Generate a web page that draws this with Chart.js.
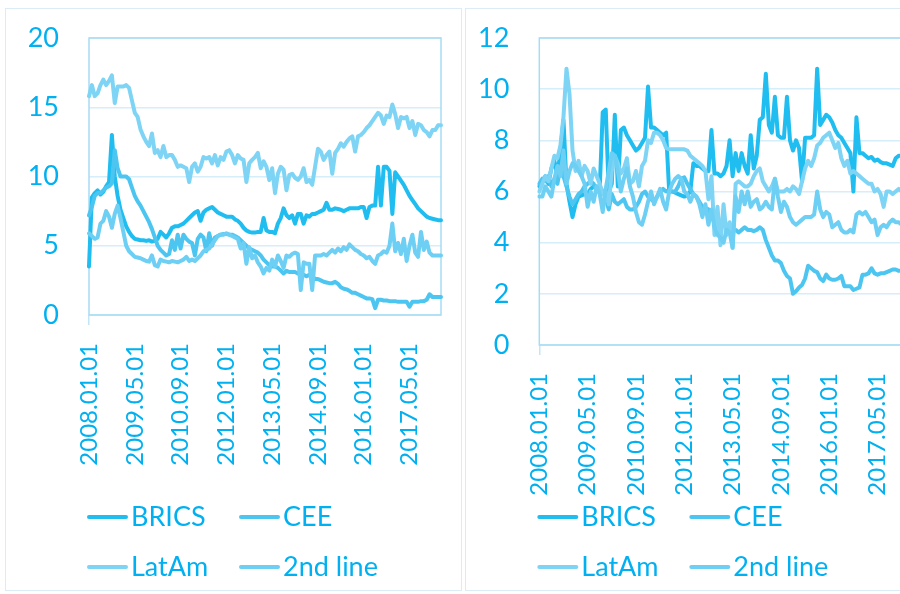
<!DOCTYPE html>
<html>
<head>
<meta charset="utf-8">
<script src="https://cdn.jsdelivr.net/npm/chart.js@4.4.1/dist/chart.umd.min.js"></script>
<style>
  html, body { margin: 0; padding: 0; background: #fff; width: 900px; height: 594px; overflow: hidden; position: relative; }
  .panel { position: absolute; top: 8px; border: 1px solid #dcecf7; background: #fff; }
  #pL { left: 5px; width: 455px; height: 581px; }
  #pR { left: 465px; width: 470px; height: 581px; }
  canvas { display: block; }
</style>
</head>
<body>
<div class="panel" id="pL"><canvas id="cL" width="455" height="581"></canvas></div>
<div class="panel" id="pR"><canvas id="cR" width="470" height="581"></canvas></div>
<script>
// Monthly observations, January 2008 onwards
const START_YEAR = 2008, START_MONTH = 1, N_MONTHS = 124;
const months = [];
for (let k = 0; k < N_MONTHS; k++) {
  const m = START_MONTH - 1 + k;
  const y = START_YEAR + Math.floor(m / 12);
  const mm = String(m % 12 + 1).padStart(2, '0');
  months.push(y + '.' + mm + '.01');
}
const LABEL_EVERY = 16;

const seriesNames = ['BRICS', 'CEE', 'LatAm', '2nd line'];

// Left panel
const leftBRICS = [
  3.5, 8.5, 8.8, 9.0, 8.7, 8.9, 9.3, 9.6, 13.0, 10.0,
  8.6, 7.6, 7.0, 6.4, 6.0, 5.7, 5.5, 5.45, 5.4, 5.4,
  5.35, 5.4, 5.3, 5.35, 5.5, 6.0, 5.8, 5.6, 5.9, 6.3,
  6.4, 6.4, 6.5, 6.6, 6.8, 7.0, 7.2, 7.4, 7.5, 6.8,
  7.4, 7.6, 7.7, 7.8, 7.6, 7.4, 7.3, 7.2, 7.1, 7.1,
  7.1, 6.9, 6.8, 6.6, 6.3, 6.1, 6.0, 5.95, 5.95, 6.0,
  6.0, 7.0, 6.1, 6.0, 6.0, 5.9, 6.6, 7.0, 7.7, 7.2,
  7.0, 7.2, 6.6, 7.3, 7.3, 6.6, 7.2, 7.1, 7.3, 7.3,
  7.4, 7.5, 7.6, 8.1, 7.6, 7.6, 7.7, 7.65, 7.6, 7.5,
  7.6, 7.7, 7.7, 7.7, 7.7, 7.8, 7.8, 7.0, 7.8, 7.9,
  7.9, 10.7, 7.9, 10.7, 10.7, 10.4, 7.3, 10.3, 10.0, 9.7,
  9.4, 9.0, 8.6, 8.3, 8.0, 7.7, 7.5, 7.3, 7.1, 7.0,
  6.95, 6.9, 6.85, 6.85
];
const leftCEE = [
  7.2, 7.8, 8.6, 8.8, 8.8, 9.0, 9.2, 9.3, 9.5, 11.9,
  10.6, 10.0, 10.0, 10.0, 9.8, 9.2, 8.6, 8.2, 7.9, 7.5,
  7.1, 6.7, 6.2, 5.6, 5.0, 4.7, 4.5, 4.3, 4.4, 5.4,
  4.7, 5.8, 4.8, 5.8, 5.5, 5.3, 5.2, 4.3, 5.5, 5.8,
  5.6, 4.6, 5.9, 5.0, 5.6, 5.7, 5.8, 5.85, 5.85, 5.8,
  5.8, 5.7, 5.6, 5.4, 5.2, 5.0, 4.8, 4.7, 4.6, 4.5,
  4.3, 4.0, 3.8, 3.6, 3.5, 3.5, 3.4, 3.2, 3.0, 3.2,
  3.1, 3.1, 3.1, 3.0, 2.9, 2.9, 2.8, 2.9, 2.8, 2.6,
  2.6, 2.5, 2.4, 2.35, 2.3, 2.3, 2.4, 2.25, 2.0, 1.9,
  1.85, 1.75, 1.6, 1.6, 1.5, 1.4, 1.3, 1.2, 1.2, 1.15,
  0.5, 1.1, 1.1, 1.05, 1.05, 1.0, 1.0, 1.0, 0.95, 0.95,
  0.95, 0.95, 0.6, 0.95, 0.95, 0.95, 1.0, 1.0, 1.1, 1.5,
  1.3, 1.3, 1.3, 1.3
];
const leftLatAm = [
  15.8, 16.6, 15.8, 16.0, 16.6, 17.0, 16.6, 16.9, 17.3, 15.3,
  16.5, 16.5, 16.5, 16.6, 16.4, 15.5, 14.6, 14.3, 13.4, 12.9,
  12.5, 12.2, 13.1, 11.7, 11.9, 11.4, 12.2, 11.4, 11.55, 11.55,
  11.2, 10.7, 10.8, 10.7, 10.6, 9.6, 10.7, 10.95, 10.35, 10.7,
  11.4, 11.3, 11.4, 10.95, 11.55, 10.8, 11.4, 11.2, 11.8, 11.9,
  11.55, 10.95, 11.55, 11.3, 11.2, 9.6, 10.95, 11.2, 11.4, 11.7,
  10.6, 11.1, 10.7, 9.75, 10.6, 8.8, 10.2, 10.7, 10.5, 9.0,
  10.1, 10.2, 9.9, 9.75, 10.0, 10.6, 9.6, 9.75, 9.4, 10.7,
  12.0, 11.8, 11.2, 11.55, 11.8, 10.2, 11.7, 12.0, 12.4, 12.15,
  12.5, 12.75, 12.9, 11.8, 12.9, 13.0, 13.2, 13.5, 13.7, 14.0,
  14.3, 14.6, 14.4, 13.8, 14.4, 14.3, 15.2, 14.5, 13.5, 14.3,
  14.2, 14.3, 13.5, 14.0, 13.0, 13.8, 13.7, 13.35, 13.2, 12.9,
  13.35, 13.35, 13.7, 13.7
];
const leftSecond = [
  5.9, 5.7, 5.5, 5.6, 6.6, 6.8, 7.5, 7.1, 6.3, 7.3,
  7.9, 7.0, 6.0, 5.0, 4.6, 4.4, 4.2, 4.15, 4.1, 4.0,
  3.9, 3.85, 4.3, 3.6, 3.5, 4.0, 3.9, 3.85, 3.8, 3.9,
  3.85, 3.8, 3.9, 4.0, 4.2, 3.9, 4.0, 3.9, 4.1, 4.3,
  4.6, 4.7, 4.8, 5.1, 5.4, 5.7, 5.8, 5.8, 5.9, 5.8,
  5.7, 5.6, 5.5, 4.8, 5.2, 3.7, 4.9, 4.1, 4.3, 3.8,
  3.5, 3.0, 3.4, 3.2, 4.0, 3.5, 4.3, 3.9, 3.4, 4.3,
  4.2, 4.4, 4.5, 4.4, 1.8, 3.8, 3.7, 3.7, 1.8, 4.3,
  4.3, 4.3, 4.4, 4.3, 4.5, 4.7, 4.5, 4.8, 4.6, 4.9,
  4.7, 5.1, 4.9, 4.7, 4.6, 4.4, 4.3, 4.1, 4.2, 3.9,
  3.7, 4.3, 4.4, 4.6, 4.5, 5.0, 6.6, 4.6, 5.2, 4.4,
  5.5, 3.9, 5.0, 5.8, 4.5, 4.2, 6.0, 4.7, 5.3, 4.5,
  4.3, 4.3, 4.3, 4.3
];
const leftTicks = [0, 5, 10, 15, 20];

// Right panel
const rightBRICS = [
  6.2, 6.4, 6.6, 6.3, 6.9, 7.2, 6.6, 7.6, 8.8, 6.3,
  5.6, 5.0, 5.5, 5.8, 5.85, 5.9, 5.9, 6.1, 6.2, 6.2,
  6.1, 9.1, 9.2, 6.0, 6.3, 9.0, 6.2, 8.4, 8.5, 8.2,
  8.0, 7.8, 7.6, 7.7, 7.9, 8.1, 10.1, 8.5, 8.5, 8.4,
  8.3, 8.2, 8.3, 6.0, 6.0, 5.95, 5.9, 5.85, 5.8, 5.85,
  6.0, 7.1, 7.0, 7.0, 6.9, 6.8, 6.8, 8.4, 6.7, 6.7,
  6.6, 6.7, 7.0, 8.0, 6.6, 7.5, 6.8, 7.5, 7.0, 6.7,
  8.2, 6.9, 7.4, 8.8, 8.9, 10.6, 8.6, 8.3, 9.7, 8.2,
  8.1, 8.1, 9.7, 8.0, 7.6, 8.0, 7.7, 6.4, 8.1, 8.1,
  8.1, 8.2, 10.8, 8.6, 8.8, 9.0, 8.9, 8.7, 8.4, 8.2,
  8.1, 7.9, 7.7, 7.5, 6.0, 8.9, 7.5, 7.5, 7.4, 7.3,
  7.35, 7.2, 7.25, 7.15, 7.1, 7.1, 7.05, 7.0, 7.3, 7.4,
  7.4, 7.35, 7.3, 7.3
];
const rightCEE = [
  6.3, 6.5, 6.4, 6.6, 6.2, 6.5, 6.3, 7.0, 6.6, 6.2,
  5.8, 5.5, 5.7, 5.9, 6.0, 6.2, 6.3, 6.4, 6.3, 6.0,
  6.2, 6.0, 5.7, 5.3, 5.9, 5.6, 5.5, 5.6, 5.7, 5.4,
  5.3, 5.3, 5.4, 5.6, 5.9, 6.0, 5.8, 5.7, 5.6, 5.8,
  6.0, 6.1, 6.0, 6.05, 6.0, 6.0, 6.2, 6.5, 6.55, 6.3,
  6.1, 5.9, 5.8, 5.6, 5.4, 5.35, 5.3, 5.1, 5.0, 4.9,
  4.8, 4.7, 4.7, 4.6, 4.5, 4.5, 4.4, 4.5, 4.6, 4.5,
  4.5, 4.45, 4.5, 4.6, 4.5, 4.1, 3.8, 3.5, 3.3, 3.3,
  3.2, 2.9, 2.7, 2.6, 2.0, 2.1, 2.25, 2.35, 2.6, 3.1,
  3.0, 2.9, 2.85, 2.6, 2.5, 2.75, 2.6, 2.55, 2.55, 2.6,
  2.7, 2.3, 2.3, 2.3, 2.15, 2.2, 2.25, 2.75, 2.75, 2.8,
  3.0, 2.8, 2.75, 2.8, 2.8, 2.85, 2.9, 2.95, 2.95, 2.9,
  2.9, 2.85, 2.9, 2.9
];
const rightLatAm = [
  6.0, 6.3, 6.6, 6.4, 6.9, 7.4, 7.3, 7.8, 8.9, 10.8,
  9.8, 7.6, 6.8, 7.2, 6.6, 7.0, 6.8, 6.3, 6.9, 6.6,
  6.3, 5.9, 6.0, 5.5, 6.8, 7.4, 7.1, 6.7, 6.9, 7.3,
  6.3, 6.4, 6.8, 6.2, 7.0, 7.2, 8.0, 7.9, 8.3, 8.3,
  8.2, 8.0, 7.7, 7.65, 7.65, 7.65, 7.65, 7.65, 7.65, 7.6,
  7.4, 7.3, 7.2, 7.1, 7.0, 6.8, 5.7, 6.6, 4.3, 5.4,
  3.9, 5.5, 4.3, 4.8, 3.8, 6.3, 6.4, 6.3, 6.2, 6.2,
  6.3, 6.6, 6.8, 6.9, 6.4, 6.2, 6.0, 6.2, 6.5, 6.0,
  6.0, 6.0, 6.1, 6.0, 6.2, 6.1, 5.9, 6.4, 6.9, 7.2,
  7.0, 7.3, 7.8, 7.9, 8.1, 8.2, 8.3, 8.0, 7.7, 7.9,
  7.3, 7.0, 7.2, 6.7, 6.8, 6.7, 6.6, 6.5, 6.4, 6.3,
  6.3, 6.0, 6.1, 5.9, 5.4, 6.0, 6.0, 5.9, 6.0, 6.1,
  6.0, 6.0, 6.0, 6.0
];
const rightSecond = [
  5.8, 5.8, 6.2, 6.0, 5.8, 6.5, 7.0, 6.6, 7.6, 6.3,
  6.8, 7.1, 7.0, 6.8, 6.6, 6.3, 5.4, 6.0, 5.6, 6.2,
  5.9, 5.2, 6.1, 6.8, 7.5, 7.4, 6.8, 6.0, 6.5, 6.9,
  6.2, 5.8, 5.2, 4.8, 4.7, 5.1, 5.6, 6.0, 5.5, 5.8,
  6.1, 5.6, 5.3, 6.0, 6.3, 6.5, 6.6, 6.5, 6.0, 5.9,
  5.6, 5.9, 5.8, 5.5, 5.0, 5.5, 4.7, 5.3, 4.6, 4.3,
  4.2, 4.0, 4.5, 4.4, 3.8, 5.8, 5.2, 6.0, 5.5, 6.0,
  5.4, 5.6, 5.7, 5.3, 5.4, 5.6, 5.4, 5.3, 6.5, 5.8,
  5.2, 5.6, 5.4, 5.0, 4.8, 4.7, 4.8, 4.9, 5.0, 5.0,
  5.0, 5.1, 6.0, 5.3, 5.0, 5.2, 5.1, 4.6, 4.7, 4.8,
  4.5, 4.4, 4.4, 4.5, 4.4, 5.1, 5.2, 5.1, 5.2, 5.0,
  4.8, 4.9, 4.3, 4.6, 4.7, 4.6, 4.8, 4.9, 4.8, 4.8,
  4.7, 4.7, 4.7, 4.7
];
const rightTicks = [0, 2, 4, 6, 8, 10, 12];

// Styling
const TEXT = '#00b0f0';
const GRID = '#d6eefa';
const FRAME = '#a6dcf4';
const TICKMARK = '#c3e6f6';
const COLORS = ['#1fbdf0', '#4cc6f1', '#7ed4f5', '#6ccff3'];
const FONT = 'Lato';
const Y_FONT_SIZE = 27;
const Y_LABEL_GAP = 30;

Chart.defaults.font.family = FONT;

// Outline round the plotting area, under the lines
const plotFrame = {
  id: 'plotFrame',
  beforeDatasetsDraw(chart) {
    const a = chart.chartArea, ctx = chart.ctx;
    ctx.save();
    ctx.strokeStyle = FRAME;
    ctx.lineWidth = 1.5;
    ctx.strokeRect(a.left, a.top, a.right - a.left, a.bottom - a.top);
    ctx.restore();
  }
};

// Two-column key below the date labels
const seriesKey = {
  id: 'seriesKey',
  afterDraw(chart, args, opts) {
    const ctx = chart.ctx, a = chart.chartArea;
    ctx.save();
    ctx.font = opts.size + 'px ' + FONT;
    ctx.textBaseline = 'middle';
    ctx.textAlign = 'left';
    chart.data.datasets.forEach((ds, i) => {
      const x = a.left + opts.x0 + (i % 2) * opts.colGap;
      const y = opts.rows[Math.floor(i / 2)];
      ctx.strokeStyle = ds.borderColor;
      ctx.lineWidth = 4;
      ctx.lineCap = 'round';
      ctx.beginPath();
      ctx.moveTo(x + 2, y);
      ctx.lineTo(x + 39, y);
      ctx.stroke();
      ctx.fillStyle = TEXT;
      ctx.fillText(ds.label, x + 44, y);
    });
    ctx.restore();
  }
};

function buildChart(canvasId, series, ticks, box) {
  const canvas = document.getElementById(canvasId);
  const W = canvas.width, H = canvas.height;
  const yMax = ticks[ticks.length - 1];
  const step = ticks[1] - ticks[0];
  return new Chart(canvas, {
    type: 'line',
    data: {
      labels: months,
      datasets: series.map((values, i) => ({
        label: seriesNames[i],
        data: values,
        borderColor: COLORS[i],
        backgroundColor: COLORS[i],
        borderWidth: 4,
        pointRadius: 0,
        tension: 0,
        borderJoinStyle: 'round',
        borderCapStyle: 'round',
        fill: false,
        order: series.length - 1 - i
      }))
    },
    options: {
      responsive: false,
      animation: false,
      devicePixelRatio: 1,
      events: [],
      layout: { padding: { left: 0, top: box.top, right: W - box.right, bottom: 0 } },
      plugins: {
        legend: { display: false },
        tooltip: { enabled: false },
        seriesKey: { size: 27, x0: -2, colGap: 152, rows: [508, 558] }
      },
      scales: {
        x: {
          type: 'category',
          offset: false,
          border: { display: false },
          grid: {
            drawOnChartArea: false,
            drawTicks: true,
            tickLength: 10,
            lineWidth: 1.5,
            tickColor: c => (c.index % LABEL_EVERY === 0 ? TICKMARK : 'rgba(0,0,0,0)')
          },
          ticks: {
            autoSkip: false,
            minRotation: 90,
            maxRotation: 90,
            padding: 18,
            color: TEXT,
            font: { size: 24, family: FONT },
            callback: (v, i) => (i % LABEL_EVERY === 0 ? months[i] : null)
          },
          afterFit: s => { s.height = H - box.bottom; }
        },
        y: {
          min: 0,
          max: yMax,
          border: { display: false },
          // invisible tick marks keep the labels clear of the axis
          grid: { color: GRID, lineWidth: 1.5, drawTicks: true, tickLength: Y_LABEL_GAP - 3, tickColor: 'rgba(0,0,0,0)' },
          ticks: { stepSize: step, color: TEXT, padding: 3, font: { size: Y_FONT_SIZE, family: FONT } },
          afterFit: s => { s.width = box.left; }
        }
      }
    },
    plugins: [plotFrame, seriesKey]
  });
}

buildChart('cL', [leftBRICS, leftCEE, leftLatAm, leftSecond], leftTicks,
  { left: 83, top: 29, right: 435, bottom: 306 });
buildChart('cR', [rightBRICS, rightCEE, rightLatAm, rightSecond], rightTicks,
  { left: 73.3, top: 29, right: 444.8, bottom: 336 });
</script>
</body>
</html>
